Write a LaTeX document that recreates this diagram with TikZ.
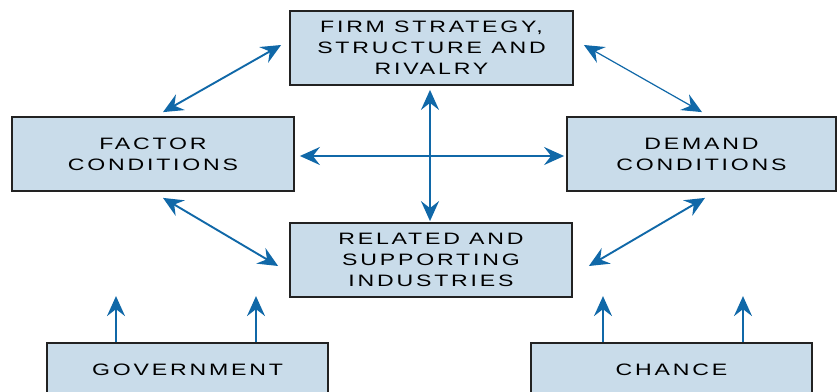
\documentclass[tikz,border=0pt]{standalone}
\usepackage{fontspec}
\setmainfont{Liberation Sans}[FakeStretch=1.4,LetterSpace=17]
\usetikzlibrary{arrows.meta,calc}
\definecolor{boxfill}{RGB}{201,220,234}
\definecolor{boxline}{RGB}{34,34,34}
\definecolor{arrowblue}{RGB}{16,104,168}
\begin{document}
\begin{tikzpicture}[x=1pt,y=-1pt,
  >={Stealth[length=20pt,width=18pt,inset=7pt]},
  box/.style={draw=boxline,line width=1.8pt,fill=boxfill,align=center,
    font=\fontsize{16.5}{21}\selectfont,inner sep=0pt,text depth=0pt},
  dbl/.style={arrowblue,line width=1.9pt,<->},
  sgl/.style={arrowblue,line width=1.9pt,->}]
\useasboundingbox (0,0) rectangle (838,391);
\fill[white] (0,0) rectangle (838,391);
\node[box,minimum width=283pt,minimum height=74pt] (firm) at (431.5,48) {FIRM STRATEGY,\\STRUCTURE AND\\RIVALRY};
\node[box,minimum width=282pt,minimum height=74pt] (factor) at (153,154) {FACTOR\\CONDITIONS};
\node[box,minimum width=269pt,minimum height=74pt] (demand) at (701.5,154) {DEMAND\\CONDITIONS};
\node[box,minimum width=282pt,minimum height=74pt] (related) at (431,260) {RELATED AND\\SUPPORTING\\INDUSTRIES};
\node[box,minimum width=281pt,minimum height=54pt] (gov) at (187.5,370) {GOVERNMENT};
\node[box,minimum width=281pt,minimum height=54pt] (chance) at (671.5,370) {CHANCE};
\draw[dbl] ($(firm.west)+(-8,-3)$) -- ($(factor.north)+(10,-4)$);
\draw[dbl,line width=1.2pt] ($(firm.east)+(10,-3)$) -- ($(demand.north)+(0.5,-4)$);
\draw[dbl] ($(factor.south)+(10,6)$) -- ($(related.west)+(-11,6)$);
\draw[dbl] ($(demand.south)+(3.5,6)$) -- ($(related.east)+(16,6)$);
\draw[dbl] ($(factor.east)+(5,2)$) -- ($(demand.west)+(-2,2)$);
\draw[dbl] ($(firm.south)+(-1.5,4)$) -- ($(related.north)+(-1,-1)$);
\draw[sgl] ($(gov.north)+(-71.5,0)$) -- ($(gov.north)+(-71.5,-46)$);
\draw[sgl] ($(gov.north)+(68.5,0)$) -- ($(gov.north)+(68.5,-46)$);
\draw[sgl] ($(chance.north)+(-68.5,0)$) -- ($(chance.north)+(-68.5,-46)$);
\draw[sgl] ($(chance.north)+(71.5,0)$) -- ($(chance.north)+(71.5,-46)$);
\end{tikzpicture}
\end{document}
